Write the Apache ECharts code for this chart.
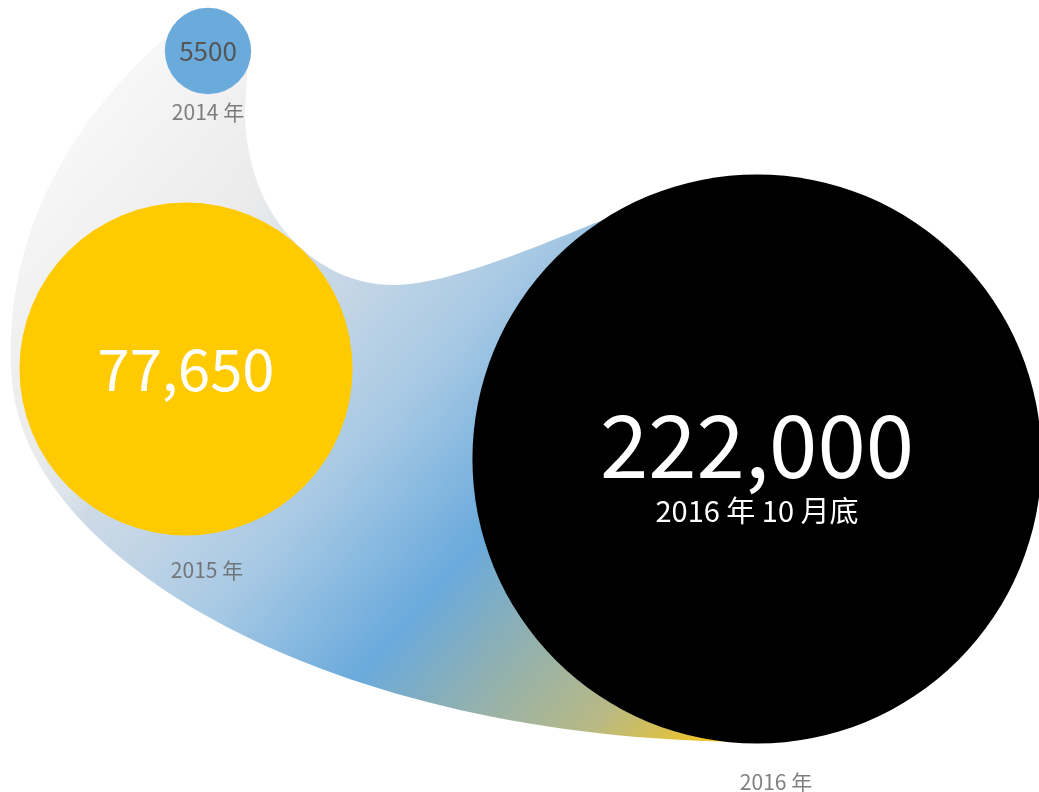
<!DOCTYPE html>
<html>
<head>
<meta charset="utf-8">
<script src="https://cdn.jsdelivr.net/npm/echarts@6/dist/echarts.min.js"></script>
<style>
html,body{margin:0;padding:0;background:#fff;}
#chart{width:1039px;height:792px;}
</style>
</head>
<body>
<div id="chart"></div>
<script>
// ---- data ----
const years = ['2014 年', '2015 年', '2016 年'];
const values = [5500, 77650, 222000];
const valueLabels = ['5500', '77,650', '222,000'];
const subLabels = ['', '', '2016 年 10 月底'];

// ---- layout (positions in plot units) ----
const centerX = [208, 186, 757];
const centerY = [51, 369, 459];
const yearLabelX = [208, 207, 776];
const yearLabelY = [112, 570, 782];
const circleColors = ['#6aabdc', '#ffca00', '#000000'];
const valueFontSizes = [26, 58, 87];
const valueColors = ['#555555', '#ffffff', '#ffffff'];

// swoosh outline (decoration) in plot units
const swooshPath = [
  ['M', 208, 51],
  ['L', 172, 32],
  ['C', 80, 110, 0, 230, 12, 380],
  ['C', 25, 560, 330, 740, 752, 742],
  ['L', 757, 460],
  ['L', 640, 205],
  ['C', 540, 245, 450, 285, 393, 285],
  ['C', 320, 285, 245, 220, 245, 110],
  ['L', 248, 60],
  ['Z']
];

const FONT = "'Noto Sans CJK SC', 'Open Sans', sans-serif";

const chart = echarts.init(document.getElementById('chart'), null, {renderer: 'canvas'});

function sizeOf(v) { return 1.068 * Math.pow(v, 0.51); }

const circleData = values.map((v, i) => {
  const hasSub = !!subLabels[i];
  const rich = {
    v: {fontSize: valueFontSizes[i], color: valueColors[i], fontFamily: FONT,
        lineHeight: hasSub ? 96 : valueFontSizes[i] * 1.08},
    s: {fontSize: 29, color: '#ffffff', fontFamily: FONT, lineHeight: 36}
  };
  return {
    value: [centerX[i], centerY[i], v],
    itemStyle: {color: circleColors[i], opacity: 1},
    label: {
      show: true,
      position: 'inside',
      padding: hasSub ? [8, 0, 0, 0] : 0,
      formatter: hasSub ? '{v|' + valueLabels[i] + '}\n{s|' + subLabels[i] + '}' : '{v|' + valueLabels[i] + '}',
      rich: rich
    }
  };
});

const yearData = years.map((y, i) => ({value: [yearLabelX[i], yearLabelY[i]], name: y}));

chart.setOption({
  animation: false,
  backgroundColor: '#ffffff',
  grid: {left: 0, right: 0, top: 0, bottom: 0, containLabel: false},
  xAxis: {type: 'value', min: 0, max: 1039, show: false},
  yAxis: {type: 'value', min: 0, max: 792, inverse: true, show: false},
  series: [
    {
      type: 'custom',
      z: 1,
      silent: true,
      data: [0],
      renderItem: function (params, api) {
        let d = '';
        swooshPath.forEach(seg => {
          d += seg[0];
          for (let k = 1; k < seg.length; k += 2) {
            const p = api.coord([seg[k], seg[k + 1]]);
            d += ' ' + p[0].toFixed(2) + ' ' + p[1].toFixed(2);
          }
          d += ' ';
        });
        const a = api.coord([75, 66]);
        const b = api.coord([787.5, 693]);
        const grad = new echarts.graphic.LinearGradient(a[0], a[1], b[0], b[1], [
          {offset: 0, color: '#f8f8f8'},
          {offset: 0.06, color: '#f6f6f6'},
          {offset: 0.15, color: '#f0f0f0'},
          {offset: 0.23, color: '#ebebeb'},
          {offset: 0.29, color: '#dde4ea'},
          {offset: 0.32, color: '#cddae6'},
          {offset: 0.37, color: '#c5d6e6'},
          {offset: 0.49, color: '#a8c9e4'},
          {offset: 0.65, color: '#6aaadc'},
          {offset: 0.75, color: '#8fb0b2'},
          {offset: 0.87, color: '#b8b985'},
          {offset: 0.965, color: '#ecc42c'},
          {offset: 1, color: '#f5c518'}
        ], true);
        return {
          type: 'path',
          shape: {pathData: d},
          style: {fill: grad, stroke: null, opacity: 1}
        };
      }
    },
    {
      type: 'scatter',
      z: 2,
      silent: true,
      symbol: 'circle',
      symbolSize: function (val) { return sizeOf(val[2]); },
      itemStyle: {opacity: 1},
      data: circleData,
      emphasis: {disabled: true}
    },
    {
      type: 'scatter',
      z: 3,
      silent: true,
      symbolSize: 0,
      data: yearData,
      label: {
        show: true,
        position: 'inside',
        formatter: '{b}',
        color: '#5f5f5f',
        fontSize: 21,
        fontFamily: FONT
      },
      emphasis: {disabled: true}
    }
  ]
});
</script>
</body>
</html>
